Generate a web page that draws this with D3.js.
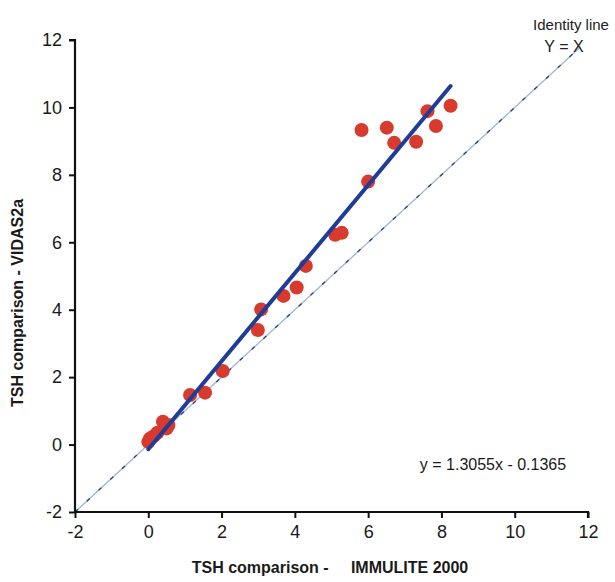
<!DOCTYPE html>
<html><head><meta charset="utf-8">
<script src="https://cdn.jsdelivr.net/npm/d3@7"></script>
<style>
body{margin:0;background:#fff;}
text{font-family:"Liberation Sans",Arial,sans-serif;}
</style></head>
<body><svg id="c" width="615" height="582"></svg>
<script>
const xTicks = [-2,0,2,4,6,8,10,12];
const yTicks = [-2,0,2,4,6,8,10,12];
const immulite = [0.0,0.05,0.15,0.25,0.4,0.5,0.55,1.14,1.55,2.03,2.99,3.08,3.69,4.05,4.30,5.10,5.28,6.0,5.82,6.51,6.71,7.31,7.62,7.85,8.25];
const vidas    = [0.08,0.18,0.25,0.35,0.68,0.48,0.58,1.47,1.54,2.18,3.40,4.01,4.41,4.66,5.30,6.22,6.28,7.80,9.33,9.40,8.95,8.98,9.89,9.45,10.05];
const slope = 1.3055, intercept = -0.1365;
const fitRange = [0, 8.25];
const identityRange = [-2, 11.8];

const svg = d3.select("#c");
const x = d3.scaleLinear().domain([-2,12]).range([75,588]);
const y = d3.scaleLinear().domain([-2,12]).range([512,40]);

// identity line
svg.append("line").attr("x1",x(identityRange[0])).attr("y1",y(identityRange[0]))
  .attr("x2",x(identityRange[1])).attr("y2",y(identityRange[1]))
  .attr("stroke","#9db3d9").attr("stroke-width",1.3);
svg.append("line").attr("x1",x(identityRange[0])).attr("y1",y(identityRange[0]))
  .attr("x2",x(identityRange[1])).attr("y2",y(identityRange[1]))
  .attr("stroke","#2c3e6e").attr("stroke-width",1.3).attr("stroke-dasharray","4,12");

// points
svg.append("g").selectAll("circle").data(immulite.map((v,i)=>[v,vidas[i]])).join("circle")
  .attr("cx",d=>x(d[0])).attr("cy",d=>y(d[1])).attr("r",7).attr("fill","#d83a2e");

// regression line
svg.append("line").attr("x1",x(fitRange[0])).attr("y1",y(slope*fitRange[0]+intercept))
  .attr("x2",x(fitRange[1])).attr("y2",y(slope*fitRange[1]+intercept))
  .attr("stroke","#1f3c96").attr("stroke-width",4).attr("stroke-linecap","round");

// axes
const xa = svg.append("g").attr("transform","translate(0,512)")
  .call(d3.axisBottom(x).tickValues(xTicks).tickSize(6).tickPadding(7).tickFormat(d=>String(d)));
const ya = svg.append("g").attr("transform","translate(75,0)")
  .call(d3.axisLeft(y).tickValues(yTicks).tickSize(6).tickPadding(7).tickFormat(d=>String(d)));
[xa,ya].forEach(a=>{
  a.select(".domain").attr("stroke","#111").attr("stroke-width",2.2);
  a.selectAll(".tick line").attr("stroke","#111").attr("stroke-width",2);
  a.selectAll(".tick text").attr("font-size",18).attr("fill","#1a1a1a").attr("font-family","Liberation Sans, Arial, sans-serif");
});
xa.select(".domain").attr("d","M75,0H588V6");
ya.select(".domain").attr("d","M-6,40H0V512");

// labels
svg.append("text").attr("x",330).attr("y",573).attr("text-anchor","middle")
  .attr("font-size",16).attr("font-weight","bold").attr("fill","#1a1a1a")
  .style("white-space","pre").text("TSH comparison -     IMMULITE 2000");
svg.append("text").attr("transform","translate(23,303) rotate(-90)").attr("text-anchor","middle")
  .attr("font-size",16).attr("font-weight","bold").attr("fill","#1a1a1a").text("TSH comparison - VIDAS2a");
svg.append("text").attr("x",571).attr("y",30).attr("text-anchor","middle")
  .attr("font-size",15).attr("fill","#222").text("Identity line");
svg.append("text").attr("x",564).attr("y",52).attr("text-anchor","middle")
  .attr("font-size",16).attr("fill","#222").text("Y = X");
svg.append("text").attr("x",493).attr("y",470).attr("text-anchor","middle")
  .attr("font-size",16).attr("fill","#1a1a1a").text("y = 1.3055x - 0.1365");
</script></body></html>
